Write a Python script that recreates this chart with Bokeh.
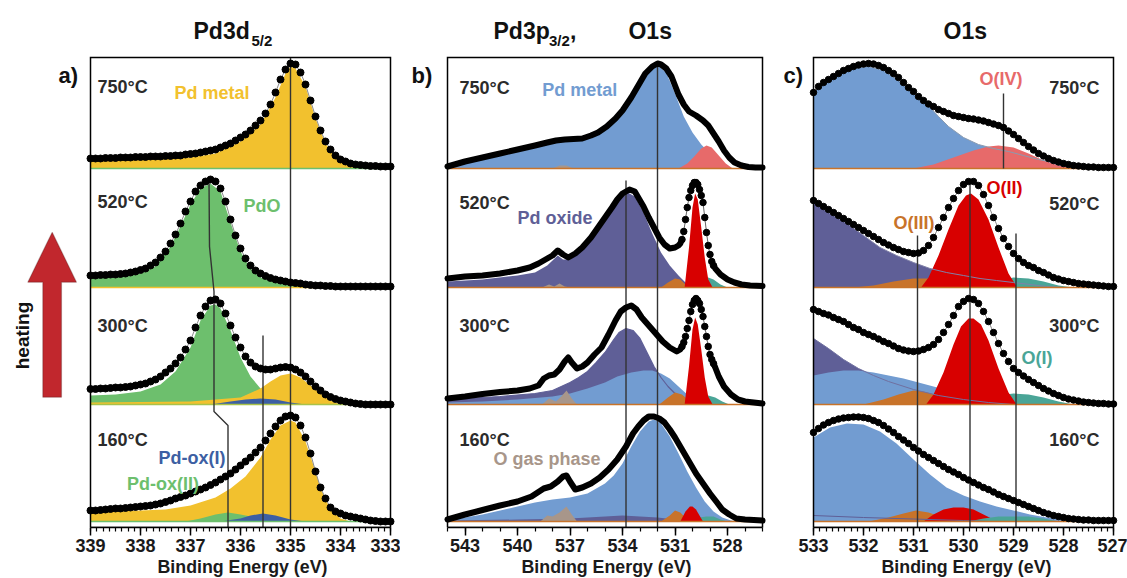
import math
from bokeh.plotting import figure
from bokeh.layouts import row
from bokeh.models import Range1d, FixedTicker, Label, PolyAnnotation, Title
from bokeh.embed import file_html
from bokeh.resources import INLINE

FONT = "Liberation Sans"
TXT = "#2b2b2b"

# ---------------- data ----------------
ROWS = ["750°C", "520°C", "300°C", "160°C"]

# Panel a: Pd3d5/2, measured points every 0.1 eV from 339.0 to 333.0
A_E = [round(339.0 - 0.1 * i, 1) for i in range(61)]
A750 = [10, 10, 10, 10.5, 10.5, 10.5, 11, 11, 11, 11.5, 11.5, 11.5, 12, 12, 12, 12.5, 12.5, 13, 13, 14,
        14.5, 15, 16, 17, 18, 19, 21, 23, 25, 28, 31, 34, 38, 43, 48, 55, 64, 76, 89, 99,
        105, 104, 96, 84, 68, 52, 38, 27, 19, 13, 9, 7, 5, 4, 3.5, 3, 2.5, 2.5, 2, 2, 2]
A520 = [12, 12, 12.5, 12.5, 13, 13, 13.5, 14, 15, 16, 17.5, 19, 22, 25, 30, 36, 44, 53, 64, 76,
        86, 96, 102, 106, 108, 106, 99, 86, 68, 52, 39, 29, 22, 17, 14, 11.5, 9.5, 8, 7, 6,
        5, 4.5, 4, 3, 2.5, 2, 2, 1.5, 1.5, 1, 1, 1, 1, 1, 1, 1, 1, 1, 1, 1, 1]
A300 = [15.5, 15.5, 16, 16, 16.5, 17, 17, 17.5, 18, 19, 20, 21, 23, 25, 28, 32, 36, 41, 47, 55,
        64, 77, 89, 98, 104, 105, 101, 91, 79, 67, 57, 48, 42, 38, 36, 35, 35, 36, 37, 37.5,
        37, 35, 32, 28, 23, 18, 14, 10, 7.5, 5.5, 4, 3, 2, 1, 0.5, 0, 0, 0, 0, 0, 0]
A160 = [11, 11, 11.5, 12, 12.5, 13, 13, 13.5, 14, 14.5, 15, 15.5, 16, 17, 18, 19.5, 21, 23, 24.5, 26,
        28, 30, 32, 34, 36.5, 39, 42, 45, 48, 52, 56, 60, 64, 69, 74, 81, 88, 95, 101, 105,
        106, 104, 96, 84, 68, 50, 34, 23, 14, 10, 8, 6, 5, 4, 3, 2, 1, 0.5, 0, 0, 0]

# fitted components (energy, intensity)
A750_METAL = ([339, 338, 337, 336.5, 336, 335.6, 335.3, 335.1, 335.0, 334.9, 334.7, 334.5, 334.3, 334.1, 333.9, 333.6, 333.3, 333.0],
              [8, 9, 11, 15, 27, 44, 71, 95, 102, 100, 82, 50, 25, 11, 5, 2, 1, 0])
A520_PDO = ([339, 338.5, 338, 337.7, 337.4, 337.2, 337.0, 336.8, 336.6, 336.4, 336.2, 336.0, 335.8, 335.6, 335.3, 335.0, 334.6, 334.2],
            [9, 10, 14, 21, 41, 61, 83, 99, 104, 96, 65, 36, 19, 10, 5, 2, 1, 0])
A300_PDO = ([339, 338.5, 338, 337.6, 337.3, 337.0, 336.8, 336.6, 336.5, 336.4, 336.2, 336.0, 335.8, 335.6, 335.4, 335.2, 335.0],
            [9, 10, 13, 20, 33, 57, 84, 99, 100, 96, 74, 47, 28, 16, 8, 3, 0])
A300_METAL = ([339, 337, 336.0, 335.6, 335.4, 335.2, 335.0, 334.8, 334.6, 334.4, 334.2, 334.0],
              [2, 3, 7, 16, 23, 29, 31, 27, 19, 11, 4, 0])
A300_OX1 = ([336.6, 336.2, 335.9, 335.6, 335.3, 335.0, 334.7], [0, 3, 5, 6, 5, 2, 0])
A160_METAL = ([339, 338, 337.5, 337, 336.5, 336.2, 335.9, 335.6, 335.4, 335.2, 335.0, 334.9, 334.7, 334.5, 334.4, 334.2, 334.0, 333.8],
              [9, 11, 12, 16, 24, 33, 45, 64, 82, 96, 101, 99, 80, 50, 33, 12, 3, 0])
A160_OX2 = ([337.1, 336.8, 336.5, 336.25, 336.0, 335.7, 335.4, 335.1], [0, 3, 7, 9, 7, 4, 1, 0])
A160_OX1 = ([336.4, 336.0, 335.8, 335.55, 335.3, 335.0, 334.7], [0, 3, 6, 8, 6, 2, 0])
A_MARK_E = [335.0, 335.55]
A_MARK_TOP = [464, 186]
A_SHIFT_E = [336.63, 336.62, 336.55, 336.53, 336.53, 336.25, 336.25]
A_SHIFT_Y = [341, 275, 240, 230, 110, 96, -6]

# Panel b: Pd3p3/2, O1s (measured curve)
B750 = ([544, 543, 542, 541, 540, 539, 538.3, 537.8, 537.3, 536.8, 536.3, 535.8, 535.4, 534.9, 534.4, 534.0, 533.5, 533.1, 532.7,
         532.3, 532.0, 531.8, 531.5, 531.2, 530.8, 530.5, 530.2, 529.8, 529.4, 529.1, 528.8, 528.5, 528.2, 527.9, 527.6, 527.2,
         526.8, 526.4, 526.0],
        [2, 7, 11, 15, 19, 23, 26, 28, 29, 29.5, 30, 33, 36, 42, 50, 58, 71, 83, 95,
         102, 105, 104, 100, 92, 74, 64, 57, 53, 48, 43, 35, 27, 18, 11, 6, 3, 1.5, 1, 1])
B520 = ([544, 543, 542, 541, 540, 539.3, 538.8, 538.3, 538.0, 537.7, 537.4, 537.1, 536.7, 536.3, 535.8, 535.4, 535.0, 534.6,
         534.3, 534.0, 533.6, 533.3, 533.1, 532.8, 532.5, 532.2, 531.9, 531.6, 531.3, 531.0,
         530.8, 530.7, 530.6, 530.5, 530.4, 530.3, 530.2, 530.1, 530.0, 529.9, 529.8, 529.7, 529.6, 529.5, 529.4, 529.3,
         529.2, 529.1, 529.0, 528.9, 528.8, 528.7, 528.4, 528.0, 527.6, 527.2, 526.7, 526.0],
        [9, 11, 12, 14, 17, 20, 24, 29, 32, 37, 33, 30, 34, 40, 50, 60, 70, 80,
         88, 94, 98, 96, 90, 81, 70, 60, 50, 43, 39, 40,
         42, 44, 48, 56, 68, 80, 90, 97, 102, 105, 105, 103, 98, 92, 85, 70,
         55, 42, 33, 26, 22, 19, 13, 8, 5, 3, 2, 1.5])
B300 = ([544, 543, 542, 541, 540, 539.3, 538.8, 538.5, 538.2, 537.9, 537.6, 537.3, 537.1, 536.9, 536.6, 536.3, 536.0, 535.6,
         535.2, 534.8, 534.4, 534.1, 533.8, 533.5, 533.2, 532.9, 532.5, 532.1, 531.7, 531.3, 531.0,
         530.9, 530.8, 530.7, 530.6, 530.5, 530.4, 530.3, 530.2, 530.1, 530.0, 529.9, 529.8, 529.7, 529.6, 529.5, 529.4,
         529.3, 529.2, 529.1, 529.0, 528.9, 528.8, 528.7, 528.5, 528.2, 527.8, 527.4, 527.0, 526.5, 526.0],
        [6, 8, 10.5, 12.5, 14, 16, 19, 26, 29, 30, 35, 43, 47, 42, 36, 38, 42, 50,
         57, 70, 84, 93, 97, 99, 95, 87, 79, 71, 63, 57, 54,
         53, 54, 55, 58, 62, 68, 76, 84, 93, 100, 104, 106, 104, 101, 95, 88,
         78, 68, 58, 50, 45, 41, 37, 28, 18, 10, 5, 3, 2, 1])
B160 = ([544, 543, 542, 541, 540, 539.2, 538.5, 538.1, 537.7, 537.4, 537.2, 537.0, 536.7, 536.3, 535.8, 535.3, 534.8, 534.3,
         533.8, 533.4, 533.1, 532.8, 532.5, 532.2, 531.9, 531.6, 531.3, 531.0, 530.6, 530.2, 529.8, 529.4, 529.0, 528.6, 528.3,
         527.9, 527.5, 527.0, 526.5, 526.0],
        [2, 7, 11.5, 16, 20, 25, 33, 35, 40, 45, 46, 40, 32, 34, 38, 44, 52, 62,
         75, 88, 95, 101, 105, 105, 103, 99, 92, 84, 72, 60, 48, 38, 28, 19, 12,
         7, 3, 2, 1.5, 1])
B750_METAL = ([544, 542, 540, 538.3, 537.3, 536.3, 535.4, 534.4, 533.5, 532.7, 532.0, 531.5, 531.0, 530.5, 530.0, 529.5, 529.0, 528.5, 528.0],
              [1, 9, 17, 24, 27, 28, 34, 48, 69, 93, 103, 96, 75, 52, 36, 24, 15, 7, 2])
B750_O4 = ([530.8, 530.3, 529.9, 529.5, 529.2, 528.9, 528.5, 528.1, 527.7], [0, 5, 12, 20, 23, 21, 13, 5, 0])
B750_GAS = ([538.0, 537.6, 537.2, 536.8], [0, 3, 3, 0])
B520_OXIDE = ([544, 542, 540, 539, 538.3, 538.0, 537.7, 537.4, 537.0, 536.3, 535.4, 534.6, 534.0, 533.7, 533.3, 532.8, 532.3, 531.8, 531.3, 530.8, 530.4, 530.0],
              [6, 8, 12, 15, 22, 27, 32, 28, 28, 38, 58, 78, 92, 95, 91, 75, 54, 35, 22, 12, 5, 0])
B520_O2 = ([530.45, 530.2, 530.0, 529.85, 529.7, 529.5, 529.3, 529.1, 528.85], [0, 40, 80, 94, 88, 60, 30, 8, 0])
B520_O3 = ([531.8, 531.4, 531.0, 530.7, 530.4, 530.1], [0, 5, 9, 8, 3, 0])
B520_O1 = ([529.8, 529.4, 529.1, 528.8, 528.4, 528.0], [0, 6, 10, 8, 3, 0])
B520_GAS = ([538.6, 538.2, 537.9, 537.6, 537.3, 537.0], [0, 3, 1, 4, 1, 0])
B300_OXIDE = ([544, 541, 539, 538, 537.5, 537, 536.5, 536, 535.5, 535, 534.5, 534.2, 533.8, 533.4, 533.0, 532.6, 532.2, 531.8, 531.4, 531.0, 530.6, 530.2, 529.9],
              [5, 8, 11, 14, 18, 22, 27, 33, 42, 52, 65, 72, 76, 74, 66, 52, 38, 27, 18, 11, 6, 2, 0])
B300_METAL = ([544, 542, 540, 538, 537, 536, 535, 534.3, 533.5, 532.8, 532.3, 531.8, 531.3, 530.8, 530.3, 529.8, 529.3, 528.8],
              [2, 3, 5, 8, 11, 16, 22, 28, 32, 34, 34, 31, 26, 18, 10, 5, 2, 0])
B300_O2 = ([530.45, 530.2, 530.0, 529.85, 529.7, 529.5, 529.3, 529.1, 528.85], [0, 38, 75, 87, 80, 55, 27, 8, 0])
B300_O3 = ([531.9, 531.4, 531.0, 530.6, 530.2, 529.9], [0, 7, 12, 10, 4, 0])
B300_O1 = ([529.9, 529.5, 529.1, 528.7, 528.3, 527.9], [0, 6, 9, 7, 3, 0])
B300_GAS = ([538.6, 538.2, 537.8, 537.5, 537.2, 536.9, 536.6], [0, 6, 3, 8, 14, 6, 0])
B160_METAL = ([544, 542, 540, 539, 538, 537, 536, 535, 534.5, 534, 533.5, 533, 532.5, 532.2, 531.8, 531.3, 530.8, 530.3, 529.8, 529.3, 528.8, 528.3, 527.8, 527.4],
              [1, 7, 15, 19, 22, 24, 28, 38, 46, 58, 75, 90, 100, 102, 98, 85, 68, 50, 34, 20, 10, 4, 1, 0])
B160_OXIDE = ([544, 540, 537, 535, 534, 533, 532, 531, 530, 529.5], [1, 2, 3, 5, 6, 5, 4, 2, 1, 0])
B160_O2 = ([530.7, 530.4, 530.15, 530.0, 529.8, 529.6, 529.4], [0, 10, 15, 15, 12, 6, 0])
B160_O3 = ([531.8, 531.3, 531.0, 530.7, 530.4, 530.1], [0, 6, 11, 9, 4, 0])
B160_O1 = ([530.0, 529.6, 529.2, 528.8, 528.4, 528.0], [0, 4, 5, 5, 2, 0])
B160_GAS = ([538.7, 538.3, 538.0, 537.6, 537.2, 536.9, 536.6], [0, 6, 5, 9, 15, 7, 0])
B_MARK_E = [532.0, 533.8]
B_MARK_TOP = [458, 341]
B_DOTTED = (530.6, 528.8)   # energy window drawn as separate points

# Panel c: O1s, measured points every 0.1 eV from 533.0 to 527.0
C_E = [round(533.0 - 0.1 * i, 1) for i in range(61)]
C750 = [76, 82, 86, 89, 92, 95, 98, 100, 102, 103.5, 104.5, 105, 104.5, 103, 101, 98, 95, 91, 86, 81,
        77, 72, 68, 64.5, 62, 59, 57, 55, 53, 52, 51, 50, 49.5, 48.5, 47.5, 46, 44.5, 43, 41, 37.5,
        34, 30, 26, 22, 18.5, 15, 12.5, 10, 8, 6.5, 5, 4, 3, 2.5, 2, 1.5, 1.5, 1, 1, 1, 1]
C520 = [87, 84, 81, 78, 75, 72, 69, 66, 63, 60, 57, 54, 51, 48, 45, 42.5, 40, 38, 36, 35,
        34, 34.5, 37, 42, 50, 60, 70, 80, 89, 97, 103, 106, 106, 102, 93, 82, 70, 59, 49, 41,
        34, 29, 25, 22, 20, 17, 15, 12.5, 10, 8.5, 7, 6, 5, 4, 3.5, 3, 2.5, 2, 1.5, 1, 1]
C300 = [95, 93, 91, 89.5, 87, 85, 83, 80, 77, 75, 72, 70, 68, 65.5, 63, 61, 58.5, 56, 54.5, 53.5,
        53, 53.5, 55, 57, 60, 65, 72, 80, 89, 98, 103, 106, 105, 101, 93, 83, 72, 61, 51, 43,
        36, 32, 28.5, 25, 22, 19, 16, 13.5, 11, 9, 7, 5.5, 4.5, 3.5, 2.5, 2, 1.5, 1, 1, 0.5, 0.5]
C160 = [89, 93, 96.5, 99, 101, 102.5, 103.5, 104, 104.5, 104.5, 104, 103, 101, 99, 96, 92.5, 89, 85, 81.5, 78,
        74, 70.5, 67, 64, 61, 58, 55, 52, 49.5, 47, 44, 41.5, 39, 36.5, 34, 32, 29.5, 27, 25, 23,
        21, 19, 17, 15, 13, 11, 9, 7.5, 6, 5, 4, 3, 2.5, 2, 1.5, 1.5, 1, 1, 1, 1, 1]
C750_METAL = ([533.0, 532.8, 532.5, 532.2, 531.9, 531.6, 531.3, 531.0, 530.7, 530.5, 530.3, 530.0, 529.7, 529.4, 529.1, 528.8, 528.5, 528.2, 527.9, 527.6],
              [76, 85, 94, 100, 102, 98, 88, 75, 63, 52, 42, 31, 24, 20, 17, 13, 9, 6, 2, 0])
C750_O4 = ([531.0, 530.6, 530.2, 529.8, 529.5, 529.3, 529.0, 528.7, 528.4, 528.1, 527.8], [0, 4, 11, 18, 22, 23, 21, 15, 8, 3, 0])
C520_OXIDE = ([533.0, 532.67, 532.33, 532.0, 531.67, 531.34, 531.0, 530.67, 530.34, 530.0, 529.67, 529.34, 529.0, 528.67, 528.34, 528.0],
              [85, 74, 64, 52, 40, 32, 25, 19, 15, 12, 9, 7, 5, 3, 1, 0])
C520_O2 = ([530.85, 530.7, 530.5, 530.3, 530.1, 529.95, 529.85, 529.7, 529.5, 529.3, 529.1, 528.95], [0, 10, 32, 58, 82, 92, 94, 88, 68, 40, 14, 2])
C520_O3 = ([532.2, 531.8, 531.4, 531.0, 530.7, 530.4, 530.0, 529.7], [0, 2, 6, 9, 9, 6, 2, 0])
C520_O1 = ([529.9, 529.6, 529.3, 529.0, 528.7, 528.4, 528.1, 527.8], [0, 3, 7, 10, 9, 6, 2, 0])
C300_OXIDE = ([533.0, 532.7, 532.4, 532.1, 531.8, 531.5, 531.0, 530.5, 530.0, 529.5, 529.0], [66, 56, 45, 36, 29, 23, 15, 9, 5, 2, 0])
C300_METAL = ([533.0, 532.7, 532.4, 532.1, 531.8, 531.5, 531.2, 530.9, 530.6, 530.3, 530.0, 529.7, 529.4, 529.1, 528.8, 528.5],
              [29, 32, 34, 34, 32, 29, 26, 22, 18, 14, 10, 7, 4, 2, 1, 0])
C300_O2 = ([530.75, 530.6, 530.4, 530.2, 530.05, 529.9, 529.8, 529.65, 529.5, 529.3, 529.1, 528.95], [0, 10, 32, 60, 78, 86, 86, 80, 64, 36, 12, 1])
C300_O3 = ([532.0, 531.6, 531.3, 531.0, 530.8, 530.5, 530.2, 529.9], [0, 5, 10, 14, 13, 9, 4, 0])
C300_O1 = ([529.9, 529.6, 529.3, 529.0, 528.7, 528.4, 528.1, 527.8], [0, 5, 9, 11, 10, 7, 3, 0])
C160_METAL = ([533.0, 532.67, 532.33, 532.0, 531.67, 531.34, 531.0, 530.67, 530.34, 530.0, 529.67, 529.34, 529.0, 528.67, 528.34, 528.0, 527.67],
              [84, 94, 98, 97, 90, 78, 62, 47, 34, 26, 20, 15, 11, 7, 4, 2, 0])
C160_O2 = ([530.8, 530.6, 530.4, 530.2, 530.0, 529.8, 529.6, 529.4, 529.3], [0, 7, 12, 14, 14, 12, 7, 2, 0])
C160_O3 = ([531.9, 531.5, 531.2, 530.95, 530.7, 530.4, 530.1], [0, 4, 8, 11, 9, 4, 0])
C160_O1 = ([529.9, 529.6, 529.3, 529.0, 528.7, 528.4, 528.1], [0, 3, 5, 5, 5, 3, 0])
C160_OXIDE = ([533.0, 532.0, 531.0, 530.0, 529.5], [6, 4, 2.5, 1, 0])
C_MARK_E = [529.2, 530.92, 529.87, 528.95]
C_MARK_TOP = [428, 286, 341, 288]
C_MARK_BOT = [353, -6, -6, -6]

# ---------------- styles ----------------
YELLOW = "#F2C12E"
GREEN = "#6DBF6D"
DKBLUE = "#3D5FA3"
LTBLUE = "#729CD1"
PURPLE = "#5F5F97"
RED = "#D80000"
LTRED = "#E76A6A"
ORANGE = "#C8732A"
TEAL = "#4AA597"
GAS = "#A8968A"
ROW_BASE = [353, 234, 117, 0]
LINE_COL = "#333333"
Y_BOTTOM, Y_TOP = -6, 464


def make_fig(view, box, width, ticks, minor, label_left):
    # the frame spans the whole figure (so that titles and labels are drawn);
    # the axis is bounded to the energy window of the panel
    p = figure(x_range=Range1d(*view), y_range=Range1d(-6, 521), frame_width=width, frame_height=527,
               min_border_left=0, min_border_right=0, min_border_top=0, min_border_bottom=50,
               y_axis_location=None, toolbar_location=None, output_backend="svg",
               background_fill_color="white", border_fill_color="white", outline_line_color=None)
    p.grid.visible = False
    ax = p.xaxis[0]
    ax.bounds = (min(box), max(box))
    ax.ticker = FixedTicker(ticks=ticks, minor_ticks=minor)
    ax.major_label_text_font = FONT
    ax.major_label_text_font_size = "18px"
    ax.major_label_text_font_style = "bold"
    ax.major_label_text_color = "#1a1a1a"
    ax.major_label_standoff = 3
    ax.axis_line_width = 1.5
    ax.major_tick_line_width = 1.5
    ax.minor_tick_line_width = 1.2
    ax.major_tick_in = 0
    ax.major_tick_out = 8
    ax.minor_tick_in = 0
    ax.minor_tick_out = 4
    p.add_layout(Title(text="Binding Energy (eV)", align="left", offset=label_left, standoff=0,
                       text_font=FONT, text_font_size="17.8px", text_font_style="bold",
                       text_color="#1a1a1a"), "below")
    return p


def frame_box(p, box):
    p.line([box[0], box[1], box[1], box[0], box[0]], [Y_BOTTOM, Y_BOTTOM, Y_TOP, Y_TOP, Y_BOTTOM],
           line_color="black", line_width=1.5, line_join="miter")


def area(p, comp, base, color):
    E, I = comp
    p.varea(x=E, y1=[base] * len(E), y2=[base + v for v in I], fill_color=color, fill_alpha=1.0)


def trace(p, comp, base, color, width=1.0):
    E, I = comp
    p.line(E, [base + v for v in I], line_color=color, line_width=width)


def dots(p, E, I, base, size):
    Y = [base + v for v in I]
    p.line(E, Y, line_color="#8a8a8a", line_width=1)
    p.scatter(E, Y, size=size, marker="circle", fill_color="black", line_color="black")


def baseline(p, box, base, color):
    p.line([box[0], box[1]], [base, base], line_color=color, line_width=1.6)


def label(p, x, y, text, color=TXT, size="18px", align="left", angle=0.0):
    p.add_layout(Label(x=x, y=y, text=text, text_font=FONT, text_font_size=size, text_font_style="bold",
                       text_color=color, text_align=align, text_baseline="middle", angle=angle))


b750, b520, b300, b160 = ROW_BASE

# ---------------- panel a ----------------
AX = (339, 333)
pa = make_fig((340.8, 332.8), AX, 400, [339, 338, 337, 336, 335, 334, 333],
              [339 - 0.125 * i for i in range(49)], 157)
area(pa, A750_METAL, b750, YELLOW)
area(pa, A520_PDO, b520, GREEN)
area(pa, A300_PDO, b300, GREEN)
area(pa, A300_METAL, b300, YELLOW)
area(pa, A300_OX1, b300, DKBLUE)
area(pa, A160_METAL, b160, YELLOW)
area(pa, A160_OX2, b160, GREEN)
area(pa, A160_OX1, b160, DKBLUE)
baseline(pa, AX, b750, GREEN)
baseline(pa, AX, b520, YELLOW)
baseline(pa, AX, b300, "#A9C24A")
baseline(pa, AX, b160, GREEN)
for e, top in zip(A_MARK_E, A_MARK_TOP):
    pa.line([e, e], [top, Y_BOTTOM], line_color=LINE_COL, line_width=1.4)
pa.line(A_SHIFT_E, A_SHIFT_Y, line_color=LINE_COL, line_width=1.4)
frame_box(pa, AX)
for I, base in zip([A750, A520, A300, A160], ROW_BASE):
    dots(pa, A_E, I, base, 7)

for name, yb in zip(ROWS, [434.5, 319.5, 196, 82]):
    label(pa, 338.86, yb, name)
label(pa, 337.32, 429, "Pd metal", YELLOW)
label(pa, 335.94, 316, "PdO", GREEN)
label(pa, 337.64, 64, "Pd-ox(I)", DKBLUE)
label(pa, 338.27, 38, "Pd-ox(II)", GREEN)
label(pa, 339.64, 446, "a)", "#111111", "22px")
label(pa, 336.94, 491, "Pd3d", "#111111", "23px")
label(pa, 335.78, 481, "5/2", "#111111", "15px")
label(pa, 340.37, 186, "heating", "#111111", "19px", "center", math.pi / 2)
pa.add_layout(PolyAnnotation(xs=[339.766, 339.28, 339.58, 339.58, 339.954, 339.954, 340.254],
                             ys=[289.3, 239.3, 239.3, 124.3, 124.3, 239.3, 239.3],
                             fill_color="#C1272D", fill_alpha=1.0, line_color="#4a1a1a", line_width=1.2))

# ---------------- panel b ----------------
BX = (544, 526)
pb = make_fig((546.686, 525.543), BX, 370, [543, 540, 537, 534, 531, 528], list(range(526, 545)), 121)
area(pb, B750_METAL, b750, LTBLUE)
area(pb, B750_O4, b750, LTRED)
area(pb, B750_GAS, b750, GAS)
area(pb, B520_OXIDE, b520, PURPLE)
area(pb, B520_GAS, b520, GAS)
area(pb, B520_O3, b520, ORANGE)
area(pb, B520_O1, b520, TEAL)
area(pb, B520_O2, b520, RED)
area(pb, B300_OXIDE, b300, PURPLE)
area(pb, B300_METAL, b300, LTBLUE)
trace(pb, B300_OXIDE, b300, PURPLE, 1.2)
area(pb, B300_GAS, b300, GAS)
area(pb, B300_O3, b300, ORANGE)
area(pb, B300_O1, b300, TEAL)
area(pb, B300_O2, b300, RED)
area(pb, B160_METAL, b160, LTBLUE)
area(pb, B160_OXIDE, b160, PURPLE)
area(pb, B160_GAS, b160, GAS)
area(pb, B160_O3, b160, ORANGE)
area(pb, B160_O1, b160, TEAL)
area(pb, B160_O2, b160, RED)
for base in ROW_BASE:
    baseline(pb, BX, base, ORANGE)
for e, top in zip(B_MARK_E, B_MARK_TOP):
    pb.line([e, e], [top, Y_BOTTOM], line_color=LINE_COL, line_width=1.4)
frame_box(pb, BX)
hi, lo = B_DOTTED
for (E, I), base, split in zip([B750, B520, B300, B160], ROW_BASE, [False, True, True, False]):
    Y = [base + v for v in I]
    if not split:
        pb.line(E, Y, line_color="black", line_width=6, line_join="round", line_cap="round")
        continue
    left = [(e, y) for e, y in zip(E, Y) if e >= hi]
    right = [(e, y) for e, y in zip(E, Y) if e <= lo]
    mid = [(e, y) for e, y in zip(E, Y) if lo <= e <= hi]
    for seg in (left, right):
        pb.line([s[0] for s in seg], [s[1] for s in seg], line_color="black", line_width=6,
                line_join="round", line_cap="round")
    pb.line([s[0] for s in mid], [s[1] for s in mid], line_color="#666666", line_width=1)
    pb.scatter([s[0] for s in mid], [s[1] for s in mid], size=6.5, marker="circle",
               fill_color="black", line_color="black")

for name, yb in zip(ROWS, [434, 319, 196, 82]):
    label(pb, 543.31, yb, name)
label(pb, 538.59, 432, "Pd metal", LTBLUE)
label(pb, 540.0, 304, "Pd oxide", PURPLE)
label(pb, 541.37, 63, "O gas phase", GAS)
label(pb, 546.06, 446, "b)", "#111111", "22px")
label(pb, 541.37, 491, "Pd3p", "#111111", "23px")
label(pb, 538.2, 481, "3/2", "#111111", "15px")
label(pb, 537.0, 491, ",", "#111111", "23px")
label(pb, 533.66, 491, "O1s", "#111111", "23px")

# ---------------- panel c ----------------
CX = (533, 527)
pc = make_fig((533.86, 526.72), CX, 357, [533, 532, 531, 530, 529, 528, 527],
              [533 - 0.125 * i for i in range(49)], 111)
area(pc, C750_METAL, b750, LTBLUE)
area(pc, C750_O4, b750, LTRED)
trace(pc, C750_METAL, b750, "#8a9bb0", 1.0)
area(pc, C520_OXIDE, b520, PURPLE)
area(pc, C520_O3, b520, ORANGE)
area(pc, C520_O1, b520, TEAL)
area(pc, C520_O2, b520, RED)
trace(pc, C520_OXIDE, b520, "#8080a8", 1.0)
area(pc, C300_OXIDE, b300, PURPLE)
area(pc, C300_METAL, b300, LTBLUE)
area(pc, C300_O3, b300, ORANGE)
area(pc, C300_O1, b300, TEAL)
area(pc, C300_O2, b300, RED)
trace(pc, C300_OXIDE, b300, "#7070a0", 1.0)
area(pc, C160_METAL, b160, LTBLUE)
area(pc, C160_O3, b160, ORANGE)
area(pc, C160_O2, b160, RED)
area(pc, C160_O1, b160, TEAL)
trace(pc, C160_OXIDE, b160, PURPLE, 1.0)
for base in ROW_BASE:
    baseline(pc, CX, base, ORANGE)
for e, top, bot in zip(C_MARK_E, C_MARK_TOP, C_MARK_BOT):
    pc.line([e, e], [top, bot], line_color=LINE_COL, line_width=1.4)
frame_box(pc, CX)
for I, base in zip([C750, C520, C300, C160], ROW_BASE):
    dots(pc, C_E, I, base, 6.5)

for name, yb in zip(ROWS, [434, 318, 196, 82]):
    label(pc, 527.28, yb, name, align="right")
label(pc, 529.68, 443, "O(IV)", LTRED)
label(pc, 529.54, 334, "O(II)", RED)
label(pc, 531.4, 299, "O(III)", ORANGE)
label(pc, 528.84, 164, "O(I)", TEAL)
label(pc, 533.6, 446, "c)", "#111111", "22px")
label(pc, 530.4, 491, "O1s", "#111111", "23px")

layout = row(pa, pb, pc)
open("out.html", "w").write(file_html(layout, INLINE))
